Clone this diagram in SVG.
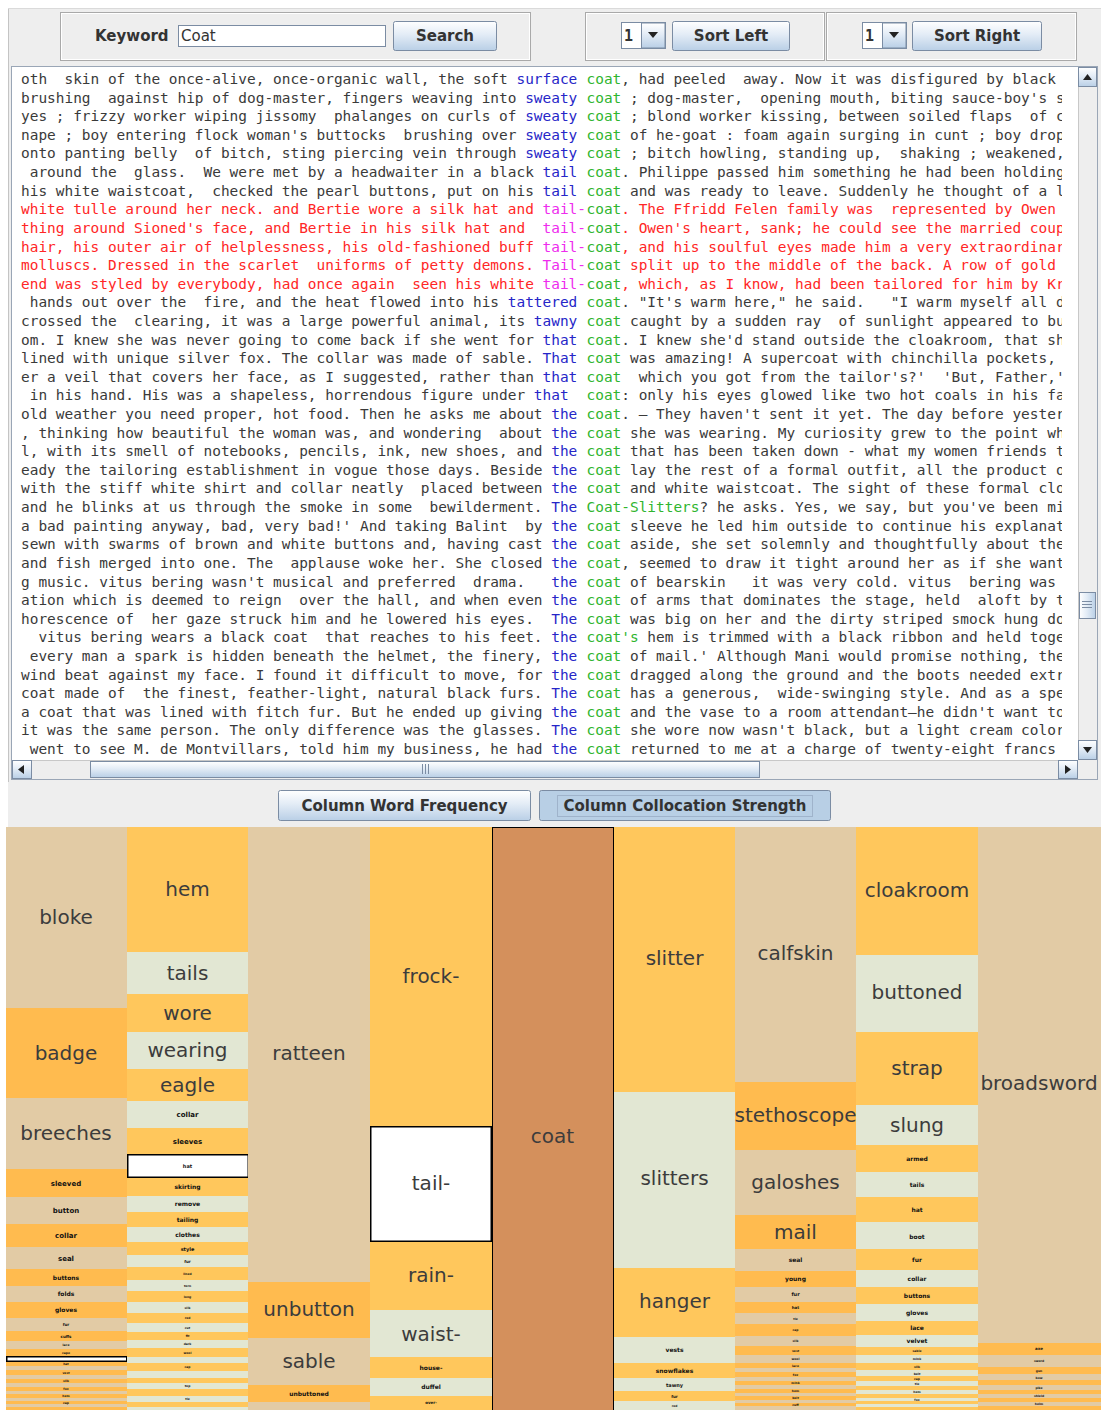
<svg xmlns="http://www.w3.org/2000/svg" width="1101" height="1410" viewBox="0 0 1101 1410">
<style>
.mono{font-family:"DejaVu Sans Mono","Liberation Mono",monospace;font-size:14.45px;fill:#3a3a3a;white-space:pre}
.b{fill:#2626c8}.k{fill:#2fb52f}.r{fill:#ff2626}.m{fill:#ee2cee}
.ui{font-family:"DejaVu Sans","Liberation Sans",sans-serif;font-size:15px;font-weight:bold;fill:#333}
.uic{text-anchor:middle}
.t{fill:#e2cba5}.o{fill:#ffbb4f}.y{fill:#ffc75c}.g{fill:#e2e7d3}
.sel{fill:#fff;stroke:#000;stroke-width:1.5}
.lbl{font-family:"DejaVu Sans","Liberation Sans",sans-serif;font-size:20px;font-weight:normal;fill:#3c3c3c;text-anchor:middle}
.sm{font-family:"DejaVu Sans","Liberation Sans",sans-serif;font-size:7px;font-weight:bold;fill:#111;text-anchor:middle}
.s6{font-size:6px}.s5{font-size:5px}.s4{font-size:4px}.s3{font-size:3px}
.btn{fill:url(#btnGrad);stroke:#7b8ca3}
.arrow{fill:#222}
</style>
<defs>
<linearGradient id="btnGrad" x1="0" y1="0" x2="0" y2="1">
<stop offset="0" stop-color="#ffffff"/>
<stop offset="0.45" stop-color="#e3ecf6"/>
<stop offset="1" stop-color="#b9cfe6"/>
</linearGradient>
<linearGradient id="thumbGradV" x1="0" y1="0" x2="1" y2="0">
<stop offset="0" stop-color="#ffffff"/>
<stop offset="0.45" stop-color="#e3ecf6"/>
<stop offset="1" stop-color="#b9cfe6"/>
</linearGradient>
<clipPath id="viewClip"><rect x="13" y="68" width="1049" height="691"/></clipPath>
</defs>

<!-- window background -->
<rect x="0" y="0" width="1101" height="1410" fill="#ffffff"/>
<rect x="8" y="8" width="1093" height="819" fill="#eeeeee"/>
<line x1="8.5" y1="8" x2="8.5" y2="782" stroke="#c4c4c4"/>
<line x1="8" y1="8.5" x2="1101" y2="8.5" stroke="#dadada"/>

<!-- toolbar -->
<g id="searchPanel">
<rect x="60.5" y="12.5" width="470" height="48" fill="none" stroke="#a9a9a9"/>
<rect x="61.5" y="13.5" width="468" height="46" fill="none" stroke="#ffffff"/>
<text class="ui" x="95" y="41">Keyword</text>
<rect x="178.5" y="25.5" width="207" height="21" fill="#ffffff" stroke="#7b8ca3"/>
<text x="181" y="41" font-family="DejaVu Sans, sans-serif" font-size="15" fill="#333">Coat</text>
<rect class="btn" x="393.5" y="21.5" width="103" height="29" rx="2"/>
<text class="ui uic" x="445" y="41">Search</text>
</g>
<g id="sortLeftPanel">
<rect x="585.5" y="12.5" width="239" height="48" fill="none" stroke="#a9a9a9"/>
<rect x="586.5" y="13.5" width="237" height="46" fill="none" stroke="#ffffff"/>
<rect x="621.5" y="22.5" width="44" height="26" fill="#ffffff" stroke="#7b8ca3"/>
<rect x="641.5" y="23" width="23.5" height="25" fill="url(#btnGrad)" stroke="#7b8ca3"/>
<polygon class="arrow" points="648,32 658,32 653,38"/>
<text x="624" y="41" font-family="DejaVu Sans Mono, monospace" font-weight="bold" font-size="15" fill="#333">1</text>
<rect class="btn" x="672.5" y="21.5" width="117" height="29" rx="2"/>
<text class="ui uic" x="731" y="41">Sort Left</text>
</g>
<g id="sortRightPanel">
<rect x="826.5" y="12.5" width="250" height="48" fill="none" stroke="#a9a9a9"/>
<rect x="827.5" y="13.5" width="248" height="46" fill="none" stroke="#ffffff"/>
<rect x="862.5" y="22.5" width="44" height="26" fill="#ffffff" stroke="#7b8ca3"/>
<rect x="882.5" y="23" width="23.5" height="25" fill="url(#btnGrad)" stroke="#7b8ca3"/>
<polygon class="arrow" points="889,32 899,32 894,38"/>
<text x="865" y="41" font-family="DejaVu Sans Mono, monospace" font-weight="bold" font-size="15" fill="#333">1</text>
<rect class="btn" x="912.5" y="21.5" width="129" height="29" rx="2"/>
<text class="ui uic" x="977" y="41">Sort Right</text>
</g>

<!-- concordance view -->
<g id="concordance">
<rect x="11.5" y="66.5" width="1086" height="713" fill="#eeeeee" stroke="#9aa6b6"/>
<rect x="12" y="67" width="1066" height="693" fill="#ffffff"/>
<g clip-path="url(#viewClip)">
<text class="mono" x="21" y="84">oth  skin of the once-alive, once-organic wall, the soft <tspan class="b">surface</tspan> <tspan class="k" x="586.5">coat</tspan>, had peeled  away. Now it was disfigured by black</text>
<text class="mono" x="21" y="102.6">brushing  against hip of dog-master, fingers weaving into <tspan class="b">sweaty</tspan> <tspan class="k" x="586.5">coat</tspan> ; dog-master,  opening mouth, biting sauce-boy's s</text>
<text class="mono" x="21" y="121.2">yes ; frizzy worker wiping jissomy  phalanges on curls of <tspan class="b">sweaty</tspan> <tspan class="k" x="586.5">coat</tspan> ; blond worker kissing, between soiled flaps  of c</text>
<text class="mono" x="21" y="139.8">nape ; boy entering flock woman's buttocks  brushing over <tspan class="b">sweaty</tspan> <tspan class="k" x="586.5">coat</tspan> of he-goat : foam again surging in cunt ; boy drop</text>
<text class="mono" x="21" y="158.4">onto panting belly  of bitch, sting piercing vein through <tspan class="b">sweaty</tspan> <tspan class="k" x="586.5">coat</tspan> ; bitch howling, standing up,  shaking ; weakened,</text>
<text class="mono" x="21" y="177.1"> around the  glass.  We were met by a headwaiter in a black <tspan class="b">tail</tspan> <tspan class="k" x="586.5">coat</tspan>. Philippe passed him something he had been holding</text>
<text class="mono" x="21" y="195.7">his white waistcoat,  checked the pearl buttons, put on his <tspan class="b">tail</tspan> <tspan class="k" x="586.5">coat</tspan> and was ready to leave. Suddenly he thought of a l</text>
<text class="mono r" x="21" y="214.3">white tulle around her neck. and Bertie wore a silk hat and <tspan class="m">tail-</tspan><tspan class="k" x="586.5">coat</tspan>. The Ffridd Felen family was  represented by Owen</text>
<text class="mono r" x="21" y="232.9">thing around Sioned's face, and Bertie in his silk hat and  <tspan class="m">tail-</tspan><tspan class="k" x="586.5">coat</tspan>. Owen's heart, sank; he could see the married coup</text>
<text class="mono r" x="21" y="251.5">hair, his outer air of helplessness, his old-fashioned buff <tspan class="m">tail-</tspan><tspan class="k" x="586.5">coat</tspan>, and his soulful eyes made him a very extraordinar</text>
<text class="mono r" x="21" y="270.1">molluscs. Dressed in the scarlet  uniforms of petty demons. <tspan class="m">Tail-</tspan><tspan class="k" x="586.5">coat</tspan> split up to the middle of the back. A row of gold</text>
<text class="mono r" x="21" y="288.7">end was styled by everybody, had once again  seen his white <tspan class="m">tail-</tspan><tspan class="k" x="586.5">coat</tspan>, which, as I know, had been tailored for him by Kr</text>
<text class="mono" x="21" y="307.3"> hands out over the  fire, and the heat flowed into his <tspan class="b">tattered</tspan> <tspan class="k" x="586.5">coat</tspan>. "It's warm here," he said.   "I warm myself all d</text>
<text class="mono" x="21" y="325.9">crossed the  clearing, it was a large powerful animal, its <tspan class="b">tawny</tspan> <tspan class="k" x="586.5">coat</tspan> caught by a sudden ray  of sunlight appeared to bu</text>
<text class="mono" x="21" y="344.5">om. I knew she was never going to come back if she went for <tspan class="b">that</tspan> <tspan class="k" x="586.5">coat</tspan>. I knew she'd stand outside the cloakroom, that sh</text>
<text class="mono" x="21" y="363.2">lined with unique silver fox. The collar was made of sable. <tspan class="b">That</tspan> <tspan class="k" x="586.5">coat</tspan> was amazing! A supercoat with chinchilla pockets,</text>
<text class="mono" x="21" y="381.8">er a veil that covers her face, as I suggested, rather than <tspan class="b">that</tspan> <tspan class="k" x="586.5">coat</tspan>  which you got from the tailor's?'  'But, Father,'</text>
<text class="mono" x="21" y="400.4"> in his hand. His was a shapeless, horrendous figure under <tspan class="b">that</tspan>  <tspan class="k" x="586.5">coat</tspan>: only his eyes glowed like two hot coals in his fa</text>
<text class="mono" x="21" y="419">old weather you need proper, hot food. Then he asks me about <tspan class="b">the</tspan> <tspan class="k" x="586.5">coat</tspan>. – They haven't sent it yet. The day before yester</text>
<text class="mono" x="21" y="437.6">, thinking how beautiful the woman was, and wondering  about <tspan class="b">the</tspan> <tspan class="k" x="586.5">coat</tspan> she was wearing. My curiosity grew to the point wh</text>
<text class="mono" x="21" y="456.2">l, with its smell of notebooks, pencils, ink, new shoes, and <tspan class="b">the</tspan> <tspan class="k" x="586.5">coat</tspan> that has been taken down - what my women friends t</text>
<text class="mono" x="21" y="474.8">eady the tailoring establishment in vogue those days. Beside <tspan class="b">the</tspan> <tspan class="k" x="586.5">coat</tspan> lay the rest of a formal outfit, all the product o</text>
<text class="mono" x="21" y="493.4">with the stiff white shirt and collar neatly  placed between <tspan class="b">the</tspan> <tspan class="k" x="586.5">coat</tspan> and white waistcoat. The sight of these formal clo</text>
<text class="mono" x="21" y="512">and he blinks at us through the smoke in some  bewilderment. <tspan class="b">The</tspan> <tspan class="k" x="586.5">Coat-Slitters</tspan>? he asks. Yes, we say, but you've been mi</text>
<text class="mono" x="21" y="530.6">a bad painting anyway, bad, very bad!' And taking Balint  by <tspan class="b">the</tspan> <tspan class="k" x="586.5">coat</tspan> sleeve he led him outside to continue his explanat</text>
<text class="mono" x="21" y="549.3">sewn with swarms of brown and white buttons and, having cast <tspan class="b">the</tspan> <tspan class="k" x="586.5">coat</tspan> aside, she set solemnly and thoughtfully about the</text>
<text class="mono" x="21" y="567.9">and fish merged into one. The  applause woke her. She closed <tspan class="b">the</tspan> <tspan class="k" x="586.5">coat</tspan>, seemed to draw it tight around her as if she want</text>
<text class="mono" x="21" y="586.5">g music. vitus bering wasn't musical and preferred  drama.   <tspan class="b">the</tspan> <tspan class="k" x="586.5">coat</tspan> of bearskin   it was very cold. vitus  bering was</text>
<text class="mono" x="21" y="605.1">ation which is deemed to reign  over the hall, and when even <tspan class="b">the</tspan> <tspan class="k" x="586.5">coat</tspan> of arms that dominates the stage, held  aloft by t</text>
<text class="mono" x="21" y="623.7">horescence of  her gaze struck him and he lowered his eyes.  <tspan class="b">The</tspan> <tspan class="k" x="586.5">coat</tspan> was big on her and the dirty striped smock hung do</text>
<text class="mono" x="21" y="642.3">  vitus bering wears a black coat  that reaches to his feet. <tspan class="b">the</tspan> <tspan class="k" x="586.5">coat's</tspan> hem is trimmed with a black ribbon and held toge</text>
<text class="mono" x="21" y="660.9"> every man a spark is hidden beneath the helmet, the finery, <tspan class="b">the</tspan> <tspan class="k" x="586.5">coat</tspan> of mail.' Although Mani would promise nothing, the</text>
<text class="mono" x="21" y="679.5">wind beat against my face. I found it difficult to move, for <tspan class="b">the</tspan> <tspan class="k" x="586.5">coat</tspan> dragged along the ground and the boots needed extr</text>
<text class="mono" x="21" y="698.1">coat made of  the finest, feather-light, natural black furs. <tspan class="b">The</tspan> <tspan class="k" x="586.5">coat</tspan> has a generous,  wide-swinging style. And as a spe</text>
<text class="mono" x="21" y="716.7">a coat that was lined with fitch fur. But he ended up giving <tspan class="b">the</tspan> <tspan class="k" x="586.5">coat</tspan> and the vase to a room attendant—he didn't want to</text>
<text class="mono" x="21" y="735.4">it was the same person. The only difference was the glasses. <tspan class="b">The</tspan> <tspan class="k" x="586.5">coat</tspan> she wore now wasn't black, but a light cream color</text>
<text class="mono" x="21" y="754"> went to see M. de Montvillars, told him my business, he had <tspan class="b">the</tspan> <tspan class="k" x="586.5">coat</tspan> returned to me at a charge of twenty-eight francs</text>
</g>
<!-- vertical scrollbar -->
<g id="vScroll">
<rect x="1078" y="67" width="19" height="693" fill="#eeeeee"/>
<line x1="1078.5" y1="67" x2="1078.5" y2="760" stroke="#c8c8c8"/>
<rect x="1078.5" y="67.5" width="18" height="19" fill="url(#btnGrad)" stroke="#7b8ca3"/>
<polygon class="arrow" points="1083,80 1092,80 1087.5,74"/>
<rect x="1078.5" y="740.5" width="18" height="19" fill="url(#btnGrad)" stroke="#7b8ca3"/>
<polygon class="arrow" points="1083,747 1092,747 1087.5,753"/>
<rect x="1079.5" y="592.5" width="16" height="26" fill="url(#thumbGradV)" stroke="#7b8ca3"/>
<path d="M1082 601.5h10M1082 604.5h10M1082 607.5h10" stroke="#7b8ca3"/>
</g>
<!-- horizontal scrollbar -->
<g id="hScroll">
<rect x="12" y="760" width="1066" height="19" fill="#eeeeee"/>
<line x1="12" y1="760.5" x2="1078" y2="760.5" stroke="#c8c8c8"/>
<rect x="12.5" y="760.5" width="19" height="18" fill="url(#btnGrad)" stroke="#7b8ca3"/>
<polygon class="arrow" points="24,765 24,774 18,769.5"/>
<rect x="1058.5" y="760.5" width="19" height="18" fill="url(#btnGrad)" stroke="#7b8ca3"/>
<polygon class="arrow" points="1065,765 1065,774 1071,769.5"/>
<rect x="90.5" y="761.5" width="669" height="16" fill="url(#btnGrad)" stroke="#7b8ca3"/>
<path d="M422.5 764v10M425.5 764v10M428.5 764v10" stroke="#7b8ca3"/>
</g>
</g>

<!-- view switch buttons -->
<g id="btnFrequency">
<rect class="btn" x="278.5" y="790.5" width="252" height="30" rx="2"/>
<text class="ui uic" x="404.5" y="811">Column Word Frequency</text>
</g>
<g id="btnCollocation">
<rect x="539.5" y="790.5" width="291" height="30" rx="2" fill="#b8cfe5" stroke="#7b8ca3"/>
<rect x="557.5" y="795.5" width="255" height="21" fill="none" stroke="#9fb3cb"/>
<text class="ui uic" x="685" y="811">Column Collocation Strength</text>
</g>

<!-- collocation columns -->
<g id="col1">
<g id="n-bloke"><rect class="t" x="6" y="827" width="121" height="181"/><text class="lbl" x="66" y="924">bloke</text></g>
<g id="n-badge"><rect class="o" x="6" y="1008" width="121" height="90"/><text class="lbl" x="66" y="1060">badge</text></g>
<g id="n-breeches"><rect class="t" x="6" y="1098" width="121" height="71"/><text class="lbl" x="66" y="1140">breeches</text></g>
<rect class="o" x="6" y="1169" width="121" height="28"/><text class="sm" x="66" y="1185.5">sleeved</text>
<rect class="t" x="6" y="1197" width="121" height="27"/><text class="sm" x="66" y="1213">button</text>
<rect class="o" x="6" y="1224" width="121" height="23"/><text class="sm" x="66" y="1238">collar</text>
<rect class="t" x="6" y="1247" width="121" height="22"/><text class="sm" x="66" y="1260.5">seal</text>
<rect class="o" x="6" y="1269" width="121" height="17"/><text class="sm s6" x="66" y="1280">buttons</text>
<rect class="t" x="6" y="1286" width="121" height="16"/><text class="sm s6" x="66" y="1296">folds</text>
<rect class="o" x="6" y="1302" width="121" height="16"/><text class="sm s6" x="66" y="1312">gloves</text>
<rect class="t" x="6" y="1318" width="121" height="13"/><text class="sm s4" x="66" y="1326">fur</text>
<rect class="o" x="6" y="1331" width="121" height="10"/><text class="sm s4" x="66" y="1337.5">cuffs</text>
<rect class="t" x="6" y="1341" width="121" height="8"/><text class="sm s3" x="66" y="1346">lace</text>
<rect class="o" x="6" y="1349" width="121" height="7"/><text class="sm s3" x="66" y="1353.5">cape</text>
<rect class="sel" x="6.75" y="1356.75" width="120" height="4.5"/>
<rect class="o" x="6" y="1362" width="121" height="4"/><rect class="t" x="6" y="1366" width="121" height="4"/>
<rect class="o" x="6" y="1370" width="121" height="5"/><rect class="t" x="6" y="1375" width="121" height="4"/>
<rect class="o" x="6" y="1379" width="121" height="4"/><rect class="t" x="6" y="1383" width="121" height="4"/>
<rect class="o" x="6" y="1387" width="121" height="4"/><rect class="t" x="6" y="1391" width="121" height="3"/>
<rect class="o" x="6" y="1394" width="121" height="4"/><rect class="t" x="6" y="1398" width="121" height="3"/>
<rect class="o" x="6" y="1401" width="121" height="3"/><rect class="t" x="6" y="1404" width="121" height="3"/>
<rect class="o" x="6" y="1407" width="121" height="3"/>
<text class="sm s3" x="66" y="1365">hat</text><text class="sm s3" x="66" y="1374">vest</text><text class="sm s3" x="66" y="1382">silk</text>
<text class="sm s3" x="66" y="1390">fox</text><text class="sm s3" x="66" y="1397">hem</text><text class="sm s3" x="66" y="1404">cap</text>
</g>

<g id="col2">
<g id="n-hem"><rect class="y" x="127" y="827" width="121" height="125"/><text class="lbl" x="187.5" y="896">hem</text></g>
<g id="n-tails"><rect class="g" x="127" y="952" width="121" height="42"/><text class="lbl" x="187.5" y="980">tails</text></g>
<g id="n-wore"><rect class="y" x="127" y="994" width="121" height="38"/><text class="lbl" x="187.5" y="1020">wore</text></g>
<g id="n-wearing"><rect class="g" x="127" y="1032" width="121" height="37"/><text class="lbl" x="187.5" y="1057">wearing</text></g>
<g id="n-eagle"><rect class="y" x="127" y="1069" width="121" height="32"/><text class="lbl" x="187.5" y="1092">eagle</text></g>
<rect class="g" x="127" y="1101" width="121" height="27"/><text class="sm" x="187.5" y="1117">collar</text>
<rect class="y" x="127" y="1128" width="121" height="26"/><text class="sm" x="187.5" y="1143.5">sleeves</text>
<rect class="sel" x="127.75" y="1154.75" width="120.5" height="22.5"/><text class="sm s5" x="187.5" y="1168">hat</text>
<rect class="y" x="127" y="1178" width="121" height="18"/><text class="sm s6" x="187.5" y="1189">skirting</text>
<rect class="g" x="127" y="1196" width="121" height="16"/><text class="sm s6" x="187.5" y="1206">remove</text>
<rect class="y" x="127" y="1212" width="121" height="15"/><text class="sm s6" x="187.5" y="1221.5">tailing</text>
<rect class="g" x="127" y="1227" width="121" height="15"/><text class="sm s6" x="187.5" y="1236.5">clothes</text>
<rect class="y" x="127" y="1242" width="121" height="13"/><text class="sm s5" x="187.5" y="1250.5">style</text>
<rect class="g" x="127" y="1255" width="121" height="12"/><text class="sm s4" x="187.5" y="1262.5">fur</text>
<rect class="y" x="127" y="1267" width="121" height="13"/><text class="sm s3" x="187.5" y="1274.5">lined</text>
<rect class="g" x="127" y="1280" width="121" height="11"/><text class="sm s3" x="187.5" y="1286.5">torn</text>
<rect class="y" x="127" y="1291" width="121" height="11"/><text class="sm s3" x="187.5" y="1297.5">long</text>
<rect class="g" x="127" y="1302" width="121" height="11"/><text class="sm s3" x="187.5" y="1308.5">silk</text>
<rect class="y" x="127" y="1313" width="121" height="10"/><text class="sm s3" x="187.5" y="1319">red</text>
<rect class="g" x="127" y="1323" width="121" height="9"/><text class="sm s3" x="187.5" y="1328.5">cut</text>
<rect class="y" x="127" y="1332" width="121" height="8"/><text class="sm s3" x="187.5" y="1337">fit</text>
<rect class="g" x="127" y="1340" width="121" height="8"/><text class="sm s3" x="187.5" y="1345">dark</text>
<rect class="y" x="127" y="1348" width="121" height="9"/><text class="sm s3" x="187.5" y="1353.5">wool</text>
<rect class="g" x="127" y="1357" width="121" height="6"/>
<rect class="y" x="127" y="1363" width="121" height="8"/><text class="sm s3" x="187.5" y="1368">cap</text>
<rect class="g" x="127" y="1371" width="121" height="7"/>
<rect class="y" x="127" y="1378" width="121" height="5"/>
<rect class="g" x="127" y="1383" width="121" height="6"/><text class="sm s3" x="187.5" y="1387">top</text>
<rect class="y" x="127" y="1389" width="121" height="7"/>
<rect class="g" x="127" y="1396" width="121" height="6"/><text class="sm s3" x="187.5" y="1400">tie</text>
<rect class="y" x="127" y="1402" width="121" height="5"/>
<rect class="g" x="127" y="1407" width="121" height="3"/>
</g>

<g id="col3">
<g id="n-ratteen"><rect class="t" x="248" y="827" width="122" height="455"/><text class="lbl" x="309" y="1060">ratteen</text></g>
<g id="n-unbutton"><rect class="o" x="248" y="1282" width="122" height="56"/><text class="lbl" x="309" y="1316">unbutton</text></g>
<g id="n-sable"><rect class="t" x="248" y="1338" width="122" height="47"/><text class="lbl" x="309" y="1368">sable</text></g>
<rect class="o" x="248" y="1385" width="122" height="17"/><text class="sm s6" x="309" y="1395.5">unbuttoned</text>
<rect class="t" x="248" y="1402" width="122" height="8"/>
</g>

<g id="col4">
<g id="n-frock"><rect class="y" x="370" y="827" width="122" height="299"/><text class="lbl" x="431" y="983">frock-</text></g>
<g id="n-tail"><rect class="sel" x="370.75" y="1126.75" width="120.5" height="114.5"/><text class="lbl" x="431" y="1190">tail-</text></g>
<g id="n-rain"><rect class="y" x="370" y="1242" width="122" height="68"/><text class="lbl" x="431" y="1282">rain-</text></g>
<g id="n-waist"><rect class="g" x="370" y="1310" width="122" height="47"/><text class="lbl" x="431" y="1341">waist-</text></g>
<rect class="y" x="370" y="1357" width="122" height="21"/><text class="sm s6" x="431" y="1369.5">house-</text>
<rect class="g" x="370" y="1378" width="122" height="18"/><text class="sm s6" x="431" y="1389">duffel</text>
<rect class="y" x="370" y="1396" width="122" height="14"/><text class="sm s4" x="431" y="1404">over-</text>
</g>

<g id="n-coat">
<rect x="492.5" y="827.5" width="121" height="590" fill="#d4905c" stroke="#000"/>
<text class="lbl" x="552.5" y="1143">coat</text>
</g>

<g id="col6">
<g id="n-slitter"><rect class="y" x="614" y="827" width="121" height="265"/><text class="lbl" x="674.5" y="965">slitter</text></g>
<g id="n-slitters"><rect class="g" x="614" y="1092" width="121" height="176"/><text class="lbl" x="674.5" y="1185">slitters</text></g>
<g id="n-hanger"><rect class="y" x="614" y="1268" width="121" height="69"/><text class="lbl" x="674.5" y="1308">hanger</text></g>
<rect class="g" x="614" y="1337" width="121" height="26"/><text class="sm s6" x="674.5" y="1352">vests</text>
<rect class="y" x="614" y="1363" width="121" height="15"/><text class="sm s6" x="674.5" y="1372.5">snowflakes</text>
<rect class="g" x="614" y="1378" width="121" height="13"/><text class="sm s5" x="674.5" y="1386.5">tawny</text>
<rect class="y" x="614" y="1391" width="121" height="10"/><text class="sm s4" x="674.5" y="1397.5">fur</text>
<rect class="g" x="614" y="1401" width="121" height="9"/><text class="sm s3" x="674.5" y="1406.5">red</text>
</g>

<g id="col7">
<g id="n-calfskin"><rect class="t" x="735" y="827" width="121" height="255"/><text class="lbl" x="795.5" y="960">calfskin</text></g>
<g id="n-stethoscope"><rect class="o" x="735" y="1082" width="121" height="68"/><text class="lbl" x="795.5" y="1122">stethoscope</text></g>
<g id="n-galoshes"><rect class="t" x="735" y="1150" width="121" height="65"/><text class="lbl" x="795.5" y="1189">galoshes</text></g>
<g id="n-mail"><rect class="o" x="735" y="1215" width="121" height="34"/><text class="lbl" x="795.5" y="1239">mail</text></g>
<rect class="t" x="735" y="1249" width="121" height="22"/><text class="sm s6" x="795.5" y="1262">seal</text>
<rect class="o" x="735" y="1271" width="121" height="16"/><text class="sm s6" x="795.5" y="1281">young</text>
<rect class="t" x="735" y="1287" width="121" height="15"/><text class="sm s5" x="795.5" y="1296">fur</text>
<rect class="o" x="735" y="1302" width="121" height="11"/><text class="sm s4" x="795.5" y="1309">hat</text>
<rect class="t" x="735" y="1313" width="121" height="11"/><text class="sm s3" x="795.5" y="1320">tie</text>
<rect class="o" x="735" y="1324" width="121" height="12"/><text class="sm s3" x="795.5" y="1331">cap</text>
<rect class="t" x="735" y="1336" width="121" height="10"/><text class="sm s3" x="795.5" y="1342">silk</text>
<rect class="o" x="735" y="1346" width="121" height="9"/><text class="sm s3" x="795.5" y="1351.5">vest</text>
<rect class="t" x="735" y="1355" width="121" height="8"/><text class="sm s3" x="795.5" y="1360">wool</text>
<rect class="o" x="735" y="1363" width="121" height="5"/><rect class="t" x="735" y="1368" width="121" height="4"/>
<rect class="o" x="735" y="1372" width="121" height="5"/><rect class="t" x="735" y="1377" width="121" height="4"/>
<rect class="o" x="735" y="1381" width="121" height="4"/><rect class="t" x="735" y="1385" width="121" height="4"/>
<rect class="o" x="735" y="1389" width="121" height="4"/><rect class="t" x="735" y="1393" width="121" height="3"/>
<rect class="o" x="735" y="1396" width="121" height="4"/><rect class="t" x="735" y="1400" width="121" height="3"/>
<rect class="o" x="735" y="1403" width="121" height="3"/><rect class="t" x="735" y="1406" width="121" height="4"/>
<text class="sm s3" x="795.5" y="1367">lace</text><text class="sm s3" x="795.5" y="1376">fox</text><text class="sm s3" x="795.5" y="1384">mink</text>
<text class="sm s3" x="795.5" y="1392">hem</text><text class="sm s3" x="795.5" y="1399">belt</text><text class="sm s3" x="795.5" y="1406">cuff</text>
</g>

<g id="col8">
<g id="n-cloakroom"><rect class="y" x="856" y="827" width="122" height="128"/><text class="lbl" x="917" y="897">cloakroom</text></g>
<g id="n-buttoned"><rect class="g" x="856" y="955" width="122" height="77"/><text class="lbl" x="917" y="999">buttoned</text></g>
<g id="n-strap"><rect class="y" x="856" y="1032" width="122" height="73"/><text class="lbl" x="917" y="1075">strap</text></g>
<g id="n-slung"><rect class="g" x="856" y="1105" width="122" height="40"/><text class="lbl" x="917" y="1132">slung</text></g>
<rect class="y" x="856" y="1145" width="122" height="27"/><text class="sm s6" x="917" y="1160.5">armed</text>
<rect class="g" x="856" y="1172" width="122" height="25"/><text class="sm s6" x="917" y="1186.5">tails</text>
<rect class="y" x="856" y="1197" width="122" height="25"/><text class="sm s6" x="917" y="1211.5">hat</text>
<rect class="g" x="856" y="1222" width="122" height="27"/><text class="sm s6" x="917" y="1239">boot</text>
<rect class="y" x="856" y="1249" width="122" height="21"/><text class="sm s6" x="917" y="1261.5">fur</text>
<rect class="g" x="856" y="1270" width="122" height="17"/><text class="sm s6" x="917" y="1280.5">collar</text>
<rect class="y" x="856" y="1287" width="122" height="17"/><text class="sm s6" x="917" y="1297.5">buttons</text>
<rect class="g" x="856" y="1304" width="122" height="17"/><text class="sm s6" x="917" y="1314.5">gloves</text>
<rect class="y" x="856" y="1321" width="122" height="14"/><text class="sm s6" x="917" y="1330">lace</text>
<rect class="g" x="856" y="1335" width="122" height="12"/><text class="sm s6" x="917" y="1343">velvet</text>
<rect class="y" x="856" y="1347" width="122" height="8"/><text class="sm s3" x="917" y="1352">sable</text>
<rect class="g" x="856" y="1355" width="122" height="8"/><text class="sm s3" x="917" y="1360">mink</text>
<rect class="y" x="856" y="1363" width="122" height="7"/><rect class="g" x="856" y="1370" width="122" height="6"/>
<rect class="y" x="856" y="1376" width="122" height="5"/><rect class="g" x="856" y="1381" width="122" height="5"/>
<rect class="y" x="856" y="1386" width="122" height="4"/><rect class="g" x="856" y="1390" width="122" height="4"/>
<rect class="y" x="856" y="1394" width="122" height="4"/><rect class="g" x="856" y="1398" width="122" height="3"/>
<rect class="y" x="856" y="1401" width="122" height="3"/><rect class="g" x="856" y="1404" width="122" height="3"/>
<rect class="y" x="856" y="1407" width="122" height="3"/>
<text class="sm s3" x="917" y="1368">silk</text><text class="sm s3" x="917" y="1374.5">belt</text><text class="sm s3" x="917" y="1380">cap</text>
<text class="sm s3" x="917" y="1385">tie</text><text class="sm s3" x="917" y="1393">hem</text><text class="sm s3" x="917" y="1400.5">fox</text>
</g>

<g id="col9">
<g id="n-broadsword"><rect class="t" x="978" y="827" width="123" height="516"/><text class="lbl" x="1039" y="1090">broadsword</text></g>
<rect class="o" x="978" y="1343" width="123" height="12"/><text class="sm s4" x="1039" y="1350">axe</text>
<rect class="t" x="978" y="1355" width="123" height="12"/><text class="sm s3" x="1039" y="1362">sword</text>
<rect class="o" x="978" y="1367" width="123" height="7"/><text class="sm s3" x="1039" y="1372">gun</text>
<rect class="t" x="978" y="1374" width="123" height="6"/><text class="sm s3" x="1039" y="1378.5">bow</text>
<rect class="o" x="978" y="1380" width="123" height="5"/><rect class="t" x="978" y="1385" width="123" height="5"/>
<rect class="o" x="978" y="1390" width="123" height="4"/><rect class="t" x="978" y="1394" width="123" height="4"/>
<rect class="o" x="978" y="1398" width="123" height="4"/><rect class="t" x="978" y="1402" width="123" height="4"/>
<rect class="o" x="978" y="1406" width="123" height="4"/>
<text class="sm s3" x="1039" y="1388.5">pike</text><text class="sm s3" x="1039" y="1397">shield</text><text class="sm s3" x="1039" y="1405">helm</text>
</g>
</svg>
